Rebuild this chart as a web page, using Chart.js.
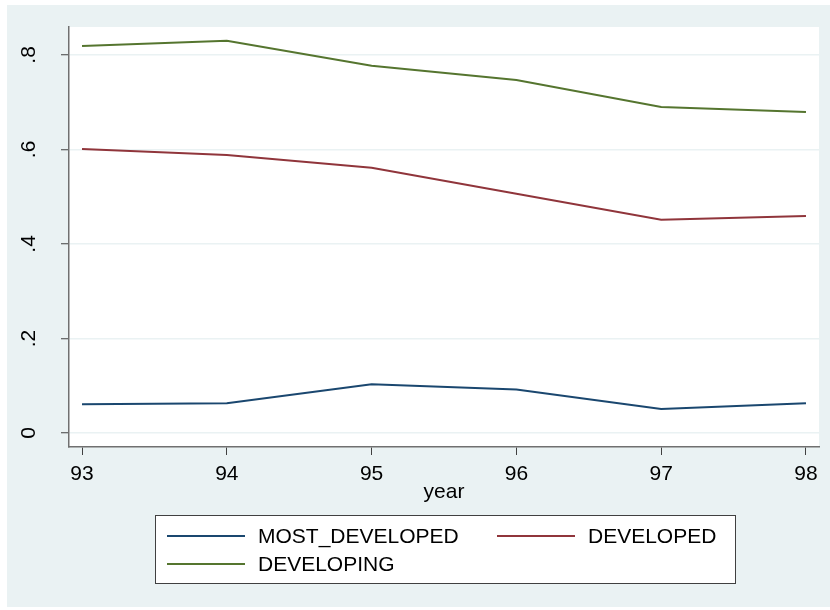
<!DOCTYPE html>
<html>
<head>
<meta charset="utf-8">
<script src="https://cdn.jsdelivr.net/npm/chart.js@4"></script>
<style>
html,body{margin:0;padding:0;background:#ffffff;}
#wrap{width:830px;height:610px;position:relative;}
</style>
</head>
<body>
<div id="wrap"><canvas id="c" width="830" height="610"></canvas></div>
<script>
const years = [93, 94, 95, 96, 97, 98];
const mostDeveloped = [0.061, 0.063, 0.103, 0.092, 0.051, 0.063];
const developed = [0.601, 0.588, 0.561, 0.506, 0.451, 0.459];
const developing = [0.819, 0.830, 0.777, 0.747, 0.690, 0.679];
const yTicks = [0, 0.2, 0.4, 0.6, 0.8];
const yTickLabels = ["0", ".2", ".4", ".6", ".8"];
const xTicks = [93, 94, 95, 96, 97, 98];
const seriesNames = ["MOST_DEVELOPED", "DEVELOPED", "DEVELOPING"];
const seriesColors = ["#1A476F", "#90353B", "#55752F"];
const xTitle = "year";

const FONT = "Liberation Sans, Arial, sans-serif";
const FS = 21;
const BG = "#EAF2F3";

function pts(vals){ return years.map((y,i)=>({x:y, y:vals[i]})); }

const bgPlugin = {
  id:'bg',
  beforeDraw(chart){
    const ctx = chart.ctx;
    ctx.save();
    ctx.fillStyle = '#ffffff';
    ctx.fillRect(0,0,chart.width,chart.height);
    ctx.fillStyle = BG;
    ctx.fillRect(7,5,chart.width-7,chart.height-8);
    const a = chart.chartArea;
    ctx.fillStyle = '#ffffff';
    ctx.fillRect(a.left,a.top,a.right-a.left,a.bottom-a.top);
    ctx.restore();
  }
};

const decoPlugin = {
  id:'deco',
  afterDraw(chart){
    const ctx = chart.ctx;
    const ys = chart.scales.y;
    const a = chart.chartArea;
    ctx.save();
    ctx.fillStyle = '#000000';
    ctx.font = FS + 'px ' + FONT;
    // rotated y tick labels
    ctx.textAlign = 'center';
    ctx.textBaseline = 'alphabetic';
    yTicks.forEach((v,i)=>{
      const py = ys.getPixelForValue(v);
      ctx.save();
      ctx.translate(35, py);
      ctx.rotate(-Math.PI/2);
      ctx.fillText(yTickLabels[i], 0, 0);
      ctx.restore();
    });
    // x title
    ctx.textAlign = 'center';
    ctx.fillText(xTitle, (a.left+a.right)/2, 498);
    // legend
    const lx = 155, ly = 515, lw = 580, lh = 68;
    ctx.fillStyle = '#ffffff';
    ctx.fillRect(lx, ly, lw, lh);
    ctx.strokeStyle = '#404040';
    ctx.lineWidth = 1;
    ctx.strokeRect(lx+0.5, ly+0.5, lw, lh);
    const items = [
      {x:167, y:536, tx:258},
      {x:497, y:536, tx:588},
      {x:167, y:564, tx:258}
    ];
    ctx.textAlign = 'left';
    ctx.textBaseline = 'middle';
    chart.data.datasets.forEach((ds,i)=>{
      const it = items[i];
      ctx.strokeStyle = ds.borderColor;
      ctx.lineWidth = 2;
      ctx.beginPath();
      ctx.moveTo(it.x, it.y);
      ctx.lineTo(it.x+78, it.y);
      ctx.stroke();
      ctx.fillStyle = '#000000';
      ctx.fillText(ds.label, it.tx, it.y+1);
    });
    ctx.restore();
  }
};

new Chart(document.getElementById('c'), {
  type:'line',
  data:{
    datasets:[
      {label:seriesNames[0], data:pts(mostDeveloped), borderColor:seriesColors[0], borderWidth:2, pointRadius:0, fill:false, tension:0},
      {label:seriesNames[1], data:pts(developed), borderColor:seriesColors[1], borderWidth:2, pointRadius:0, fill:false, tension:0},
      {label:seriesNames[2], data:pts(developing), borderColor:seriesColors[2], borderWidth:2, pointRadius:0, fill:false, tension:0}
    ]
  },
  options:{
    responsive:false,
    animation:false,
    devicePixelRatio:1,
    layout:{padding:{left:0, top:27, right:11, bottom:0}},
    plugins:{legend:{display:false}, tooltip:{enabled:false}},
    scales:{
      x:{
        type:'linear',
        min:92.91, max:98.09,
        afterBuildTicks(s){ s.ticks = xTicks.map(v=>({value:v})); },
        afterFit(s){ s.height = 163; },
        grid:{drawOnChartArea:false, drawTicks:true, tickLength:8, tickColor:'#404040', tickWidth:1},
        border:{display:true, color:'#707070', width:1.5},
        ticks:{color:'#000000', font:{family:FONT, size:FS}, padding:7, maxRotation:0, minRotation:0,
          callback:(v)=>String(v)}
      },
      y:{
        type:'linear',
        min:-0.0296, max:0.859,
        afterBuildTicks(s){ s.ticks = yTicks.map(v=>({value:v})); },
        afterFit(s){ s.width = 69; },
        grid:{drawOnChartArea:true, color:BG, lineWidth:1.5, drawTicks:true, tickLength:8, tickColor:'#404040', tickWidth:1},
        border:{display:true, color:'#707070', width:1.5},
        ticks:{color:'rgba(0,0,0,0)', font:{family:FONT, size:FS}, callback:(v)=>''}
      }
    }
  },
  plugins:[bgPlugin, decoPlugin]
});
</script>
</body>
</html>
